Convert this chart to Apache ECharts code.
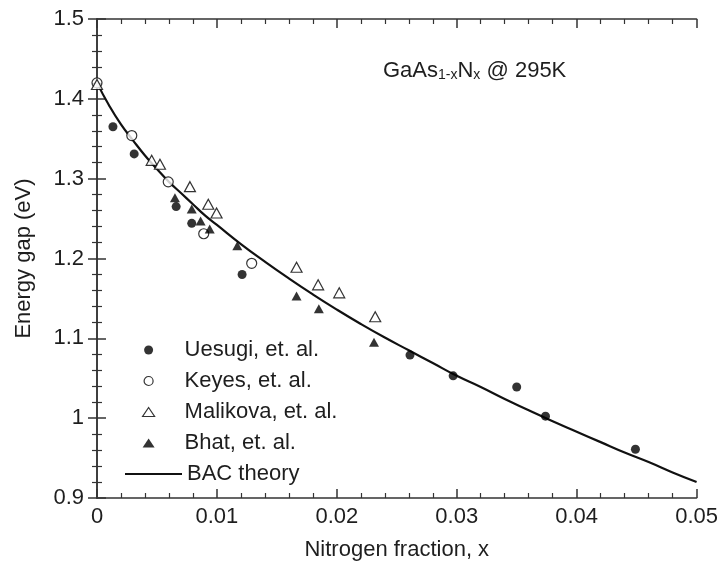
<!DOCTYPE html>
<html>
<head>
<meta charset="utf-8">
<script src="https://cdn.jsdelivr.net/npm/echarts@6/dist/echarts.min.js"></script>
<style>html,body{margin:0;padding:0;background:#fff}#c{width:721px;height:567px}</style>
</head>
<body>
<div id="c"></div>
<script>
// Data: [nitrogen fraction x, energy gap eV]
const uesugi = [[0.00133,1.365],[0.0031,1.331],[0.0066,1.265],[0.0079,1.244],[0.0121,1.180],[0.0261,1.079],[0.0297,1.053],[0.0350,1.039],[0.0374,1.0025],[0.0449,0.961]];
const keyes = [[0,1.420],[0.0029,1.354],[0.00594,1.296],[0.0089,1.231],[0.0129,1.194]];
const malikova = [[0,1.418],[0.00456,1.323],[0.00525,1.318],[0.00775,1.290],[0.00928,1.268],[0.00997,1.257],[0.01664,1.189],[0.01844,1.167],[0.0202,1.157],[0.0232,1.127]];
const bhat = [[0.0065,1.276],[0.0079,1.262],[0.00864,1.247],[0.0094,1.237],[0.0117,1.216],[0.01664,1.153],[0.0185,1.137],[0.0231,1.095]];
const bacX = [0,0.001,0.002,0.003,0.004,0.005,0.006,0.007,0.008,0.009,0.010,0.012,0.014,0.016,0.018,0.020,0.022,0.024,0.026,0.028,0.030,0.032,0.034,0.036,0.038,0.040,0.042,0.044,0.046,0.048,0.050];
const bacE = [1.420,1.392,1.368,1.348,1.329,1.312,1.296,1.282,1.268,1.254,1.242,1.218,1.196,1.175,1.155,1.136,1.118,1.101,1.085,1.069,1.053,1.039,1.024,1.010,0.996,0.983,0.970,0.957,0.945,0.932,0.920];
const xTicks = ['0','0.01','0.02','0.03','0.04','0.05'];
const yTicks = ['0.9','1','1.1','1.2','1.3','1.4','1.5'];
const seriesNames = ['Uesugi, et. al.','Keyes, et. al.','Malikova, et. al.','Bhat, et. al.','BAC theory'];

const FONT = 'Liberation Sans, Arial, Helvetica, sans-serif';
const ink = '#1e1e1e';
const FS = 22;
const axisCommon = {
  axisLine:{show:true,lineStyle:{color:'#333',width:1.5}},
  axisTick:{show:true,inside:true,length:9,lineStyle:{color:'#333',width:1.5}},
  minorTick:{show:true,splitNumber:5,length:5,lineStyle:{color:'#333',width:1.2}},
  splitLine:{show:false}
};
const legendText = {fontSize:FS,color:ink,fontFamily:FONT};
const chart = echarts.init(document.getElementById('c'), null, {renderer:'canvas'});
chart.setOption({
  backgroundColor:'#fff',
  animation:false,
  textStyle:{fontFamily:FONT},
  grid:{left:97,right:24,top:19,bottom:69,containLabel:false},
  xAxis:[
    Object.assign({type:'value',min:0,max:0.05,interval:0.01,position:'bottom',
      name:'Nitrogen fraction, x',nameLocation:'middle',nameGap:41,
      nameTextStyle:{fontSize:FS,color:ink,fontFamily:FONT},
      axisLabel:{margin:8,fontSize:FS,color:ink,fontFamily:FONT,formatter:(v)=>xTicks[Math.round(v/0.01)]}},axisCommon),
    Object.assign({type:'value',min:0,max:0.05,interval:0.01,position:'top',axisLabel:{show:false}},axisCommon)
  ],
  yAxis:[
    Object.assign({type:'value',min:0.9,max:1.5,interval:0.1,position:'left',
      name:'Energy gap (eV)',nameLocation:'middle',nameGap:62,
      nameTextStyle:{fontSize:FS,color:ink,fontFamily:FONT},
      axisLabel:{margin:13,fontSize:FS,color:ink,fontFamily:FONT,formatter:(v)=>yTicks[Math.round((v-0.9)/0.1)]}},axisCommon),
    Object.assign({type:'value',min:0.9,max:1.5,interval:0.1,position:'right',axisLabel:{show:false}},axisCommon)
  ],
  legend:[{
    orient:'vertical',left:137,top:334,itemWidth:12,itemHeight:9,itemGap:9,
    textStyle:Object.assign({padding:[0,0,0,25]},legendText),
    data:[
      {name:seriesNames[0],icon:'circle',itemStyle:{color:'#000',borderWidth:0}},
      {name:seriesNames[1],icon:'circle',itemStyle:{color:'#fff',borderColor:'#000',borderWidth:1.2}},
      {name:seriesNames[2],icon:'triangle',itemStyle:{color:'#fff',borderColor:'#000',borderWidth:1.2}},
      {name:seriesNames[3],icon:'triangle',itemStyle:{color:'#000',borderWidth:0}}
    ]
  },{
    orient:'vertical',left:120,top:458,itemWidth:57,itemHeight:2,
    textStyle:Object.assign({padding:[0,0,0,0]},legendText),
    data:[{name:seriesNames[4],icon:'rect',itemStyle:{color:'#111',borderWidth:0}}]
  }],
  graphic:[{
    type:'text',left:383,top:60,
    style:{
      text:'{b|GaAs}{s|1-x}{b|N}{s|x}{b| @ 295K}',
      rich:{
        b:{fontSize:FS,fontFamily:FONT,fill:ink,lineHeight:24,verticalAlign:'bottom'},
        s:{fontSize:14,fontFamily:FONT,fill:ink,lineHeight:8,verticalAlign:'bottom'}
      }
    }
  }],
  series:[
    {name:seriesNames[4],type:'line',data:bacX.map((x,i)=>[x,bacE[i]]),symbol:'none',smooth:true,
      color:'#111',lineStyle:{color:'#111',width:2.2},itemStyle:{color:'#111'},z:2},
    {name:seriesNames[0],type:'scatter',data:uesugi,symbol:'circle',symbolSize:9,
      itemStyle:{color:'#000'},z:3},
    {name:seriesNames[1],type:'scatter',data:keyes,symbol:'circle',symbolSize:10,
      itemStyle:{color:'#fff',borderColor:'#000',borderWidth:1.2},z:4},
    {name:seriesNames[2],type:'scatter',data:malikova,symbol:'triangle',symbolSize:[11,10],
      itemStyle:{color:'#fff',borderColor:'#000',borderWidth:1.2},z:5},
    {name:seriesNames[3],type:'scatter',data:bhat,symbol:'triangle',symbolSize:[10,9],
      itemStyle:{color:'#000'},z:4}
  ]
});
</script>
</body>
</html>
